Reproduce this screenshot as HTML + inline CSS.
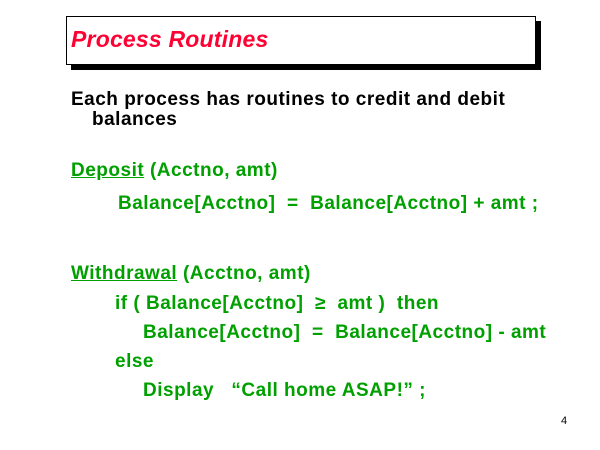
<!DOCTYPE html>
<html><head><meta charset="utf-8"><style>
body{margin:0;width:600px;height:450px;background:#fff;position:relative;overflow:hidden;font-family:"Liberation Sans",Arial,sans-serif;}
.t{position:absolute;font-weight:bold;font-size:19px;line-height:19px;letter-spacing:0.5px;white-space:pre;}
.g{color:#00a000;}
</style></head><body>
<div style="position:absolute;left:71px;top:21px;width:470px;height:49px;background:#000"></div>
<div style="position:absolute;left:66px;top:16px;width:468px;height:47px;background:#fff;border:1px solid #000"></div>
<div class="t" style="left:71px;top:27px;font-size:23px;line-height:24px;letter-spacing:0.2px;font-style:italic;color:#ff0033">Process Routines</div>
<div class="t" style="left:71px;top:90px">Each process has routines to credit and debit</div>
<div class="t" style="left:92px;top:110px">balances</div>
<div class="t g" style="left:71px;top:161px"><u>Deposit</u> (Acctno, amt)</div>
<div class="t g" style="left:118px;top:194px">Balance[Acctno]  =  Balance[Acctno] + amt ;</div>
<div class="t g" style="left:71px;top:264px"><u>Withdrawal</u> (Acctno, amt)</div>
<div class="t g" style="left:115px;top:294px">if ( Balance[Acctno]  ≥  amt )  then</div>
<div class="t g" style="left:143px;top:323px">Balance[Acctno]  =  Balance[Acctno] - amt</div>
<div class="t g" style="left:115px;top:352px">else</div>
<div class="t g" style="left:143px;top:381px">Display   “Call home ASAP!” ;</div>
<div style="position:absolute;left:561px;top:415px;font-size:11px;line-height:12px">4</div>
</body></html>
